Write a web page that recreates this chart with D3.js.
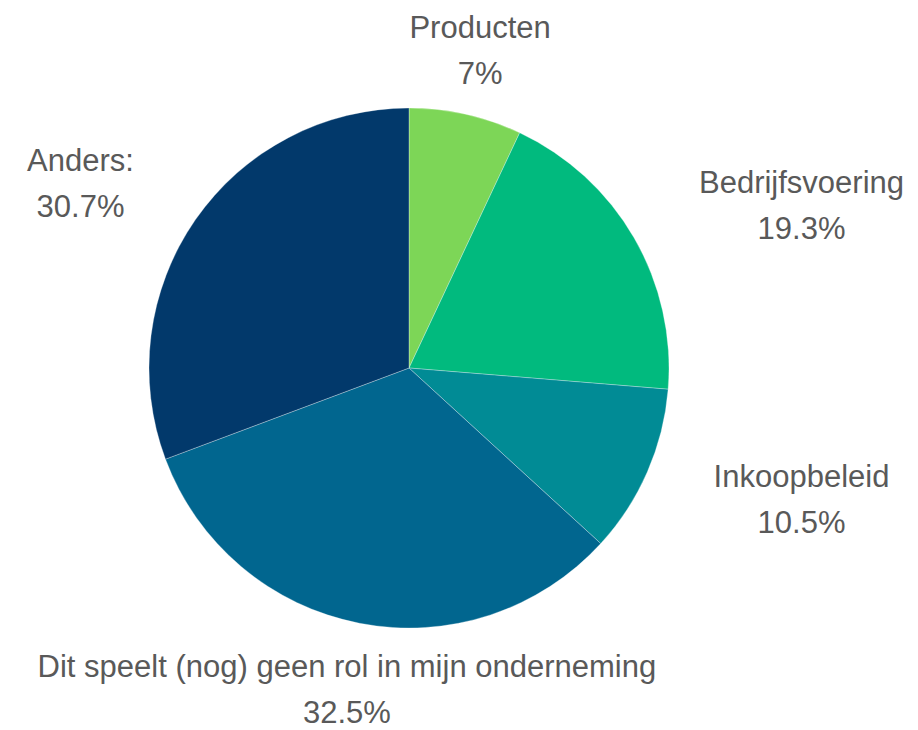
<!DOCTYPE html>
<html>
<head>
<meta charset="utf-8">
<script src="https://cdn.jsdelivr.net/npm/d3@7"></script>
<style>
  html, body { margin: 0; padding: 0; background: #ffffff; }
  svg { display: block; }
</style>
</head>
<body>
<svg id="chart" width="918" height="730"></svg>
<script>
const categories = ["Producten", "Bedrijfsvoering", "Inkoopbeleid", "Dit speelt (nog) geen rol in mijn onderneming", "Anders:"];
const values = [7, 19.3, 10.5, 32.5, 30.7];
const valueLabels = ["7%", "19.3%", "10.5%", "32.5%", "30.7%"];
const colors = ["#7dd657", "#01ba7e", "#018b95", "#01668f", "#02396b"];

const W = 918, H = 730;
const cx = 409, cy = 368, r = 260;
const labelR = 326;
const fontSize = 31;
const lineGap = 46;

const svg = d3.select("#chart");
const data = categories.map((c, i) => ({ name: c, value: values[i], label: valueLabels[i], color: colors[i] }));

const pie = d3.pie().sort(null).value(d => d.value);
const arc = d3.arc().innerRadius(0).outerRadius(r);
const arcs = pie(data);

const g = svg.append("g").attr("transform", `translate(${cx},${cy})`);
g.selectAll("path").data(arcs).enter().append("path")
  .attr("d", arc)
  .attr("fill", d => d.data.color)
  .attr("stroke", "#ffffff")
  .attr("stroke-opacity", 0.5)
  .attr("stroke-width", 0.6);

// label placement
const rightCol = (cx + r + W) / 2 + 8;
const leftCol = (cx - r) / 2 + 6;
const labels = svg.append("g");
arcs.forEach(a => {
  const mid = (a.startAngle + a.endAngle) / 2;
  const s = Math.sin(mid), c = Math.cos(mid);
  let x;
  if (Math.abs(s) > 0.7) x = s > 0 ? rightCol : leftCol;
  else x = cx + s * labelR;
  const yc = cy - c * labelR;
  const t = labels.append("text")
    .attr("text-anchor", "middle")
    .attr("font-family", "'Liberation Sans', Arial, sans-serif")
    .attr("font-size", fontSize)
    .attr("fill", "#595959");
  t.append("tspan").attr("x", x).attr("y", yc - 11.5).text(a.data.name);
  t.append("tspan").attr("x", x).attr("y", yc - 11.5 + lineGap).text(a.data.label);
});
</script>
</body>
</html>
